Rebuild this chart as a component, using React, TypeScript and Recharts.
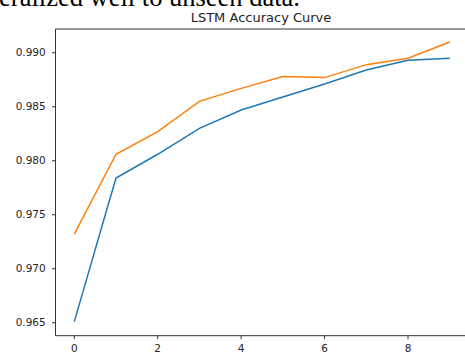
import React from "react";
import { LineChart, Line, XAxis, YAxis } from "recharts";

// Epoch index on the x axis
const epochs = [0, 1, 2, 3, 4, 5, 6, 7, 8, 9];
// Training accuracy per epoch (blue)
const trainAccuracy = [0.9651, 0.9784, 0.9806, 0.983, 0.9847, 0.9859, 0.9871, 0.9884, 0.9893, 0.9895];
// Validation accuracy per epoch (orange)
const valAccuracy = [0.9732, 0.9806, 0.9827, 0.9855, 0.9867, 0.9878, 0.9877, 0.9889, 0.9895, 0.991];
const xTicks = [0, 2, 4, 6, 8];
const yTicks = [0.965, 0.97, 0.975, 0.98, 0.985, 0.99];

const data = epochs.map((e, i) => ({ epoch: e, train: trainAccuracy[i], val: valAccuracy[i] }));

const AXIS = "#333";
const TICK_FONT = { fontFamily: "DejaVu Sans", fontSize: 10.5, fill: "#262626" };

export default function App() {
  return (
    <div style={{ position: "fixed", left: 0, top: 0, width: 465, height: 354, overflow: "hidden", background: "#fff" }}>
      <div style={{ position: "absolute", left: 0, top: 0 }}>
        <LineChart width={470} height={354} data={data} margin={{ top: 29, right: 1.5, bottom: 0, left: 0 }}>
          <XAxis
            dataKey="epoch"
            type="number"
            domain={[-0.45, 9.45]}
            ticks={xTicks}
            allowDataOverflow
            height={18.3}
            tickSize={3.5}
            tickMargin={5}
            tick={TICK_FONT}
            stroke={AXIS}
            axisLine={{ stroke: AXIS, strokeWidth: 1 }}
            tickLine={{ stroke: AXIS }}
          />
          <YAxis
            type="number"
            domain={[0.9638, 0.9922]}
            ticks={yTicks}
            allowDataOverflow
            width={55.5}
            tickSize={3.5}
            tickMargin={6.3}
            tick={TICK_FONT}
            tickFormatter={(v: number) => v.toFixed(3)}
            stroke={AXIS}
            axisLine={{ stroke: AXIS, strokeWidth: 1 }}
            tickLine={{ stroke: AXIS }}
          />
          <Line type="linear" dataKey="train" stroke="#1f77b4" strokeWidth={1.5} dot={false} isAnimationActive={false} />
          <Line type="linear" dataKey="val" stroke="#ff7f0e" strokeWidth={1.5} dot={false} isAnimationActive={false} />
        </LineChart>
      </div>
      <svg width={465} height={40} style={{ position: "absolute", left: 0, top: 0 }}>
        {/* tail of the paragraph above the figure */}
        <text x={300} y={6} textAnchor="end" fontFamily="Liberation Serif" fontSize={26.5} fill="#000">
          generalized well to unseen data.
        </text>
        <text x={261} y={22} textAnchor="middle" fontFamily="DejaVu Sans" fontSize={13} fill="#222">
          LSTM Accuracy Curve
        </text>
        {/* top spine of the plot frame */}
        <line x1={55.5} y1={29} x2={470} y2={29} stroke={AXIS} strokeWidth={1} />
      </svg>
    </div>
  );
}
